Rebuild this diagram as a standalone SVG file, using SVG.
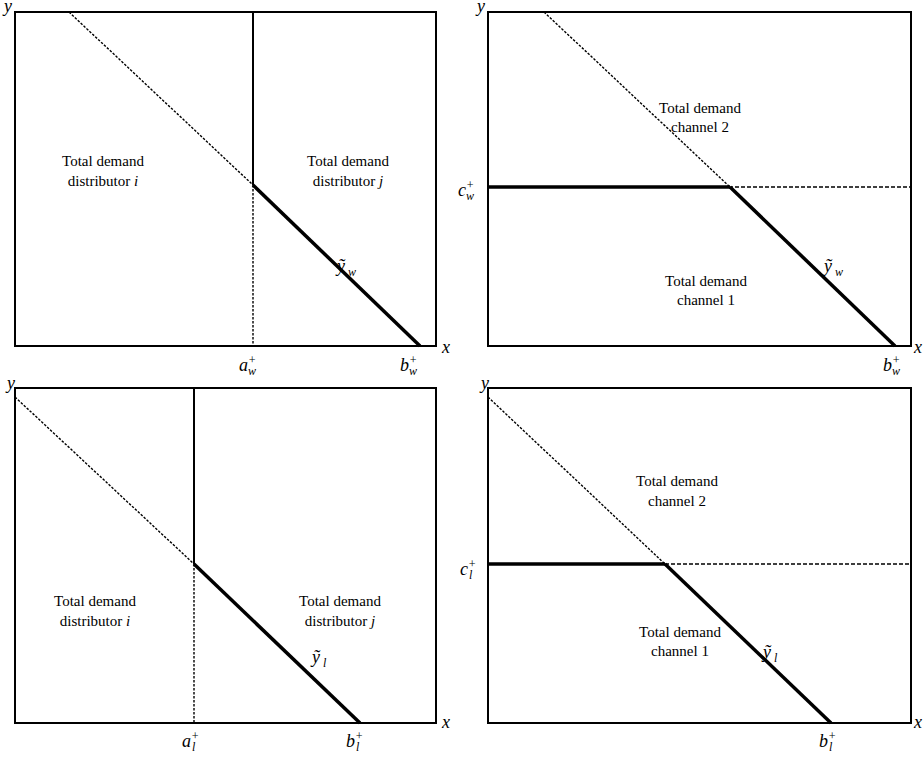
<svg xmlns="http://www.w3.org/2000/svg" width="924" height="758" viewBox="0 0 924 758">
<style>
text{font-family:"Liberation Serif","Times New Roman",serif;font-size:15px;fill:#000}
.c{text-anchor:middle}
.i{font-style:italic}
.m{font-style:italic;font-size:18px}
.box{fill:none;stroke:#000;stroke-width:2}
.thin{fill:none;stroke:#000;stroke-width:1.4;stroke-dasharray:2.5 1.5}
.dash{fill:none;stroke:#000;stroke-width:1.3;stroke-dasharray:4 2}
.thick{fill:none;stroke:#000;stroke-width:3.5}
.solid{fill:none;stroke:#000;stroke-width:2}
.s{font-size:12px}
</style>
<rect width="924" height="758" fill="#fff"/>
<g id="panel-tl">
<rect class="box" x="15" y="12" width="421" height="334"/>
<line class="thin" x1="69" y1="12" x2="253" y2="185"/>
<line class="solid" x1="253" y1="12" x2="253" y2="185"/>
<line class="thin" x1="253" y1="185" x2="253" y2="346"/>
<line class="thick" x1="253" y1="185" x2="420" y2="346"/>
<text class="m" x="8" y="12" text-anchor="middle">y</text>
<text class="m" x="446" y="353" text-anchor="middle">x</text>
<text class="c" x="103" y="166">Total demand</text>
<text class="c" x="103" y="186">distributor <tspan class="i">i</tspan></text>
<text class="c" x="348" y="166">Total demand</text>
<text class="c" x="348" y="186">distributor <tspan class="i">j</tspan></text>
<text class="m" x="337" y="272">ỹ<tspan class="s" dx="3" dy="4">w</tspan></text>
<text class="m" x="239" y="371">a<tspan class="s" dy="-7">+</tspan><tspan class="s" dx="-8" dy="11">w</tspan></text>
<text class="m" x="400" y="371">b<tspan class="s" dy="-7">+</tspan><tspan class="s" dx="-8" dy="11">w</tspan></text>
</g>
<g id="panel-tr">
<rect class="box" x="488" y="12" width="423" height="334"/>
<line class="thin" x1="544" y1="12" x2="730" y2="187"/>
<line class="thick" x1="488" y1="187" x2="730" y2="187"/>
<line class="dash" x1="705" y1="187" x2="911" y2="187"/>
<line class="thick" x1="730" y1="187" x2="895" y2="346"/>
<text class="m" x="481" y="12" text-anchor="middle">y</text>
<text class="m" x="918" y="353" text-anchor="middle">x</text>
<text class="c" x="700" y="113">Total demand</text>
<text class="c" x="700" y="132">channel 2</text>
<text class="c" x="706" y="286">Total demand</text>
<text class="c" x="706" y="305">channel 1</text>
<text class="m" x="824" y="272">ỹ<tspan class="s" dx="3" dy="4">w</tspan></text>
<text class="m" x="458" y="196">c<tspan class="s" dy="-7">+</tspan><tspan class="s" dx="-8" dy="11">w</tspan></text>
<text class="m" x="883" y="371">b<tspan class="s" dy="-7">+</tspan><tspan class="s" dx="-8" dy="11">w</tspan></text>
</g>
<g id="panel-bl">
<rect class="box" x="15" y="388" width="421" height="335"/>
<line class="thin" x1="15" y1="397" x2="194" y2="564"/>
<line class="solid" x1="194" y1="388" x2="194" y2="564"/>
<line class="thin" x1="194" y1="564" x2="194" y2="723"/>
<line class="thick" x1="194" y1="564" x2="360" y2="723"/>
<text class="m" x="11" y="389" text-anchor="middle">y</text>
<text class="m" x="446" y="728" text-anchor="middle">x</text>
<text class="c" x="95" y="606">Total demand</text>
<text class="c" x="95" y="626">distributor <tspan class="i">i</tspan></text>
<text class="c" x="340" y="606">Total demand</text>
<text class="c" x="340" y="626">distributor <tspan class="i">j</tspan></text>
<text class="m" x="312" y="663">ỹ<tspan class="s" dx="3" dy="4">l</tspan></text>
<text class="m" x="182" y="747">a<tspan class="s" dy="-7">+</tspan><tspan class="s" dx="-7" dy="11">l</tspan></text>
<text class="m" x="346" y="747">b<tspan class="s" dy="-7">+</tspan><tspan class="s" dx="-7" dy="11">l</tspan></text>
</g>
<g id="panel-br">
<rect class="box" x="488" y="388" width="423" height="335"/>
<line class="thin" x1="488" y1="397" x2="665" y2="564"/>
<line class="thick" x1="488" y1="564" x2="665" y2="564"/>
<line class="dash" x1="665" y1="564" x2="911" y2="564"/>
<line class="thick" x1="665" y1="564" x2="831" y2="723"/>
<text class="m" x="485" y="389" text-anchor="middle">y</text>
<text class="m" x="918" y="728" text-anchor="middle">x</text>
<text class="c" x="677" y="486">Total demand</text>
<text class="c" x="677" y="506">channel 2</text>
<text class="c" x="680" y="637">Total demand</text>
<text class="c" x="680" y="656">channel 1</text>
<text class="m" x="763" y="658">ỹ<tspan class="s" dx="3" dy="4">l</tspan></text>
<text class="m" x="460" y="575">c<tspan class="s" dy="-7">+</tspan><tspan class="s" dx="-7" dy="11">l</tspan></text>
<text class="m" x="819" y="747">b<tspan class="s" dy="-7">+</tspan><tspan class="s" dx="-7" dy="11">l</tspan></text>
</g>
</svg>
